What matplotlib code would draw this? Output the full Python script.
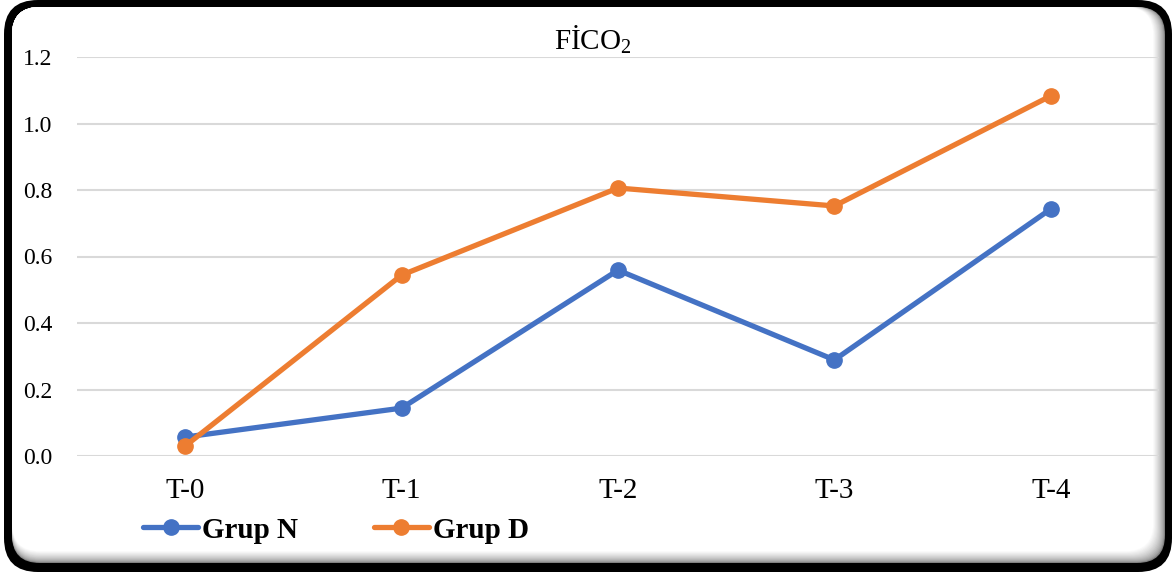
import numpy as np
import matplotlib
matplotlib.use("Agg")
import matplotlib.pyplot as plt
from matplotlib.patches import FancyBboxPatch

plt.rcParams['font.family'] = ['Liberation Serif', 'DejaVu Serif']
plt.rcParams['mathtext.fontset'] = 'custom'
plt.rcParams['mathtext.rm'] = 'Liberation Serif'
plt.rcParams['mathtext.default'] = 'regular'

# FiCO2 by time point
zaman = ['T-0', 'T-1', 'T-2', 'T-3', 'T-4']
grup_n = [0.057, 0.144, 0.559, 0.289, 0.743]
grup_d = [0.030, 0.544, 0.806, 0.752, 1.083]
y_ticks = [0.0, 0.2, 0.4, 0.6, 0.8, 1.0, 1.2]

W, H = 1173, 573
fig = plt.figure(figsize=(W / 100, H / 100), dpi=100)

# rounded frame with soft inner shadow
bg = fig.add_axes([0, 0, 1, 1], zorder=0)
bg.set_xlim(0, W)
bg.set_ylim(H, 0)
bg.axis('off')
bg.add_patch(FancyBboxPatch((4 + 34, 0 + 34), 1168 - 68, 572 - 68,
                            boxstyle="round,pad=34", fc='black', ec='none'))
steps = 14
for i in range(steps):
    g = 0.5 + 0.5 * (i / (steps - 1)) ** 0.6
    shrink = i * 0.9
    x0, y0 = 12, 7
    x1, y1 = 1165 - shrink, 563 - shrink
    r = 28
    bg.add_patch(FancyBboxPatch((x0 + r, y0 + r), x1 - x0 - 2 * r, y1 - y0 - 2 * r,
                                boxstyle="round,pad=%d" % r, fc=(g, g, g), ec='none'))

ax = fig.add_axes([77 / W, 1 - 456 / H, (1159 - 77) / W, (456 - 57) / H], zorder=1)
ax.patch.set_alpha(0)
x = np.arange(len(zaman))
ax.plot(x, grup_n, color='#4472C4', lw=3.8, marker='o', ms=11, label='Grup N',
        solid_capstyle='round', zorder=3)
ax.plot(x, grup_d, color='#ED7D31', lw=3.8, marker='o', ms=11, label='Grup D',
        solid_capstyle='round', zorder=4)

ax.set_xlim(-0.5, len(zaman) - 0.5)
ax.set_ylim(0, 1.2)
ax.set_yticks(y_ticks)
ax.set_yticklabels(['%.1f' % v for v in y_ticks], fontsize=17)
ax.set_xticks(x)
ax.set_xticklabels(zaman, fontsize=21)
ax.tick_params(axis='y', length=0, pad=18)
ax.tick_params(axis='x', length=0, pad=16)
ax.grid(axis='y', color='#D9D9D9', lw=1.5)
ax.set_axisbelow(True)
for s in ax.spines.values():
    s.set_visible(False)

fig.text(593 / W, 1 - 50 / H, 'FİCO$_2$', fontsize=21, ha='center', va='baseline')

leg = fig.legend(loc='center left', bbox_to_anchor=(143 / W, 1 - 530 / H), ncol=2,
                 frameon=False, prop={'weight': 'bold', 'size': 21},
                 handlelength=1.9, handletextpad=0.12, columnspacing=2.6,
                 borderaxespad=0, borderpad=0)

fig.savefig('out.png', dpi=100)
